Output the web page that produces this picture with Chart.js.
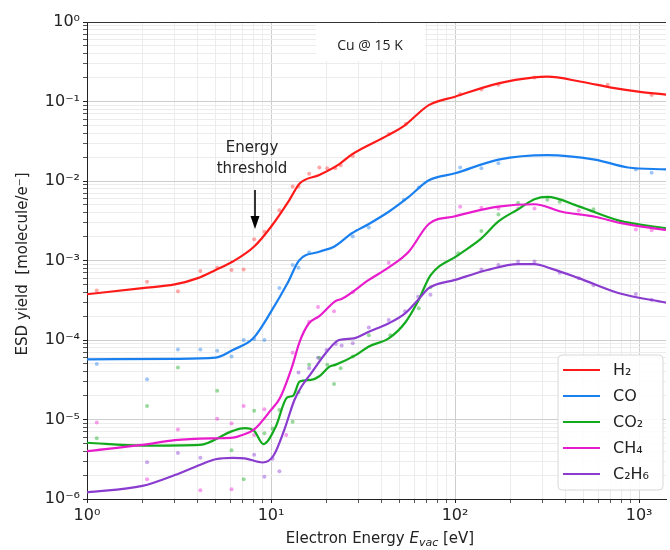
<!DOCTYPE html>
<html><head><meta charset="utf-8">
<script src="https://cdn.jsdelivr.net/npm/chart.js@4/dist/chart.umd.min.js"></script>
<style>html,body{margin:0;padding:0;background:#fff}</style>
</head><body>
<canvas id="c" width="670" height="550"></canvas>
<script>
// ---- data ----
const seriesNames = ['H\u2082', 'CO', 'CO\u2082', 'CH\u2084', 'C\u2082H\u2086'];
const xDecades = [1, 10, 100, 1000];
const yDecades = [1e-6, 1e-5, 1e-4, 1e-3, 1e-2, 1e-1, 1];

// smoothed curves
const h2E = [1, 2, 3, 4, 5, 6.2, 8.1, 10, 12.6, 14.3, 18.3, 23.4, 27.5, 43.6, 53.5, 72, 100, 172, 270, 317, 485, 735, 990, 1400];
const h2Y = [3.76e-4, 4.5e-4, 5.0e-4, 6.0e-4, 7.6e-4, 9.7e-4, 1.5e-3, 2.66e-3, 5.8e-3, 9.3e-3, 1.19e-2, 1.62e-2, 2.16e-2, 3.8e-2, 5.06e-2, 9.0e-2, 0.115, 0.169, 0.201, 0.205, 0.177, 0.147, 0.133, 0.122];
const coE = [1, 3, 5, 6.2, 8, 10, 12.3, 14.2, 18.3, 22, 27.5, 34, 43.6, 56, 72, 100, 172, 317, 575, 870, 1400];
const coY = [5.7e-5, 5.8e-5, 6.0e-5, 7.5e-5, 1.05e-4, 2.27e-4, 5.2e-4, 1.0e-3, 1.29e-3, 1.49e-3, 2.2e-3, 2.88e-3, 4.1e-3, 6.3e-3, 1.02e-2, 1.25e-2, 1.86e-2, 2.12e-2, 1.86e-2, 1.48e-2, 1.4e-2];
const co2E = [1, 2, 4.1, 6.2, 7.2, 8.1, 9.1, 10.6, 12.2, 13.2, 14.3, 16.5, 18.3, 20.7, 22.5, 29, 34, 43.6, 53.5, 63, 73.5, 104, 139, 172, 220, 270, 317, 470, 770, 1400];
const co2Y = [5.1e-6, 4.7e-6, 4.8e-6, 7.2e-6, 7.8e-6, 7.2e-6, 4.9e-6, 8.1e-6, 1.88e-5, 2.0e-5, 3.0e-5, 3.15e-5, 3.5e-5, 4.6e-5, 4.9e-5, 6.5e-5, 8.3e-5, 1.05e-4, 1.65e-4, 3.1e-4, 6.5e-4, 1.17e-3, 1.9e-3, 3.1e-3, 4.4e-3, 5.9e-3, 6.3e-3, 4.8e-3, 3.2e-3, 2.54e-3];
const ch4E = [1, 2, 3, 5, 6.2, 7, 8.1, 10, 11.2, 13, 14.3, 16, 18.3, 22.5, 24.3, 34, 43.6, 56, 72, 100, 172, 270, 380, 575, 800, 1400];
const ch4Y = [4.0e-6, 4.8e-6, 5.5e-6, 5.8e-6, 5.9e-6, 6.4e-6, 7.5e-6, 1.32e-5, 1.88e-5, 4.6e-5, 9.5e-5, 1.6e-4, 2.0e-4, 3.1e-4, 3.3e-4, 5.7e-4, 8.2e-4, 1.29e-3, 2.88e-3, 3.6e-3, 4.75e-3, 5.1e-3, 4.1e-3, 3.55e-3, 2.95e-3, 2.42e-3];
const c2h6E = [1, 2, 3, 4.1, 5, 6.2, 7.2, 9, 10.3, 11.8, 13.4, 14.8, 16.5, 19.8, 23.4, 28.2, 34, 43.6, 53.5, 63, 72, 100, 150, 220, 270, 333, 470, 770, 1400];
const c2h6Y = [1.21e-6, 1.46e-6, 2.0e-6, 2.68e-6, 3.16e-6, 3.3e-6, 3.25e-6, 2.88e-6, 3.5e-6, 7.4e-6, 1.76e-5, 2.7e-5, 3.8e-5, 6.8e-5, 1.0e-4, 1.05e-4, 1.27e-4, 1.62e-4, 2.16e-4, 3.2e-4, 4.5e-4, 5.7e-4, 7.6e-4, 9.0e-4, 9.0e-4, 7.9e-4, 6.0e-4, 3.9e-4, 2.95e-4];

// raw measurement dots
const h2DotE = [1.13, 2.12, 3.12, 4.13, 5.1, 6.1, 7.1, 8.1, 9.2, 11.1, 13.1, 14.1, 16.1, 18.3, 20.2, 22.3, 23.9, 27.8, 43.6, 54, 106.6, 139, 172, 270, 675, 1170];
const h2DotY = [4.2e-4, 5.4e-4, 4.1e-4, 7.4e-4, 8.1e-4, 7.6e-4, 7.7e-4, 1.85e-3, 2.3e-3, 4.3e-3, 8.5e-3, 8.5e-3, 1.23e-2, 1.48e-2, 1.45e-2, 1.45e-2, 1.58e-2, 2.06e-2, 3.9e-2, 5.2e-2, 0.124, 0.142, 0.162, 0.2, 0.162, 0.121];
const coDotE = [1.13, 2.12, 3.12, 4.13, 5.1, 6.1, 7.1, 8.1, 9.2, 11.1, 13.1, 14.1, 16.1, 27.8, 34, 52.7, 63.5, 106.6, 139, 172, 960, 1170];
const coDotY = [5.0e-5, 3.2e-5, 7.6e-5, 7.6e-5, 7.3e-5, 6.2e-5, 1.0e-4, 1.03e-4, 1.0e-4, 4.5e-4, 8.8e-4, 8.1e-4, 1.26e-3, 2.0e-3, 2.6e-3, 5.8e-3, 8.3e-3, 1.48e-2, 1.45e-2, 1.67e-2, 1.4e-2, 1.27e-2];
const co2DotE = [1.13, 2.12, 3.12, 5.1, 6.1, 7.1, 8.1, 9.2, 10.2, 11.1, 13.1, 14.1, 16.1, 18.3, 20.2, 22, 23.9, 27.8, 34, 44.5, 63.5, 73.5, 104, 139, 172, 220, 317, 370, 565];
const co2DotY = [5.8e-6, 1.48e-5, 4.5e-5, 2.3e-5, 4.1e-6, 1.77e-6, 1.29e-5, 6.7e-6, 7.7e-6, 1.32e-5, 9.4e-6, 2.2e-5, 4.9e-5, 6.0e-5, 4.9e-5, 2.8e-5, 4.4e-5, 6.2e-5, 1.15e-4, 1.15e-4, 2.5e-4, 4.6e-4, 1.23e-3, 2.35e-3, 3.8e-3, 5.3e-3, 5.8e-3, 5.5e-3, 4.4e-3];
const ch4DotE = [1.13, 2.12, 3.12, 4.13, 5.1, 6.1, 6.1, 7.1, 8.1, 9.2, 12.1, 13.1, 16.1, 18, 22, 27.8, 43.6, 106.6, 139, 172, 220, 270, 470, 960, 1170];
const ch4DotY = [9.2e-6, 1.77e-6, 7.5e-6, 1.29e-6, 1.02e-5, 8.9e-6, 1.33e-6, 1.48e-5, 6.4e-6, 1.35e-5, 6.4e-6, 6.9e-5, 1.7e-4, 2.6e-4, 2.3e-4, 4.0e-4, 9.4e-4, 4.75e-3, 4.6e-3, 4.5e-3, 4.5e-3, 4.5e-3, 4.25e-3, 2.46e-3, 2.4e-3];
const c2h6DotE = [2.12, 3.12, 4.13, 8.1, 9.2, 10.2, 11.1, 14.1, 16.1, 18, 20, 22.5, 24.2, 27.8, 34, 43.6, 53.5, 63, 73.5, 139, 172, 220, 270, 370, 470, 565, 960, 1170];
const c2h6DotY = [2.9e-6, 3.8e-6, 3.3e-6, 3.6e-6, 1.9e-6, 3.2e-6, 2.24e-6, 3.9e-5, 4.4e-5, 6.0e-5, 7.5e-5, 8.9e-5, 8.5e-5, 9.1e-5, 1.44e-4, 1.78e-4, 2.3e-4, 3.5e-4, 3.7e-4, 7.7e-4, 8.8e-4, 9.7e-4, 9.7e-4, 7.0e-4, 6.0e-4, 4.9e-4, 3.8e-4, 3.2e-4];

// ---- styling ----
const colors = ['#ff1a1a', '#1a80f0', '#14aa1e', '#e81ccc', '#8a3ccf'];
const dotColors = ['rgba(255,60,60,0.45)', 'rgba(40,130,240,0.45)', 'rgba(30,170,40,0.45)', 'rgba(235,40,210,0.45)', 'rgba(140,60,210,0.45)'];
const lineE = [h2E, coE, co2E, ch4E, c2h6E];
const lineY = [h2Y, coY, co2Y, ch4Y, c2h6Y];
const dotE = [h2DotE, coDotE, co2DotE, ch4DotE, c2h6DotE];
const dotY = [h2DotY, coDotY, co2DotY, ch4DotY, c2h6DotY];

const zip = (xs, ys) => xs.map((x, i) => ({x: x, y: ys[i]}));
const datasets = [];
for (let i = 0; i < 5; i++) {
  datasets.push({
    type: 'scatter', label: seriesNames[i] + ' data', data: zip(dotE[i], dotY[i]),
    backgroundColor: dotColors[i], borderWidth: 0, pointRadius: 2, order: 10
  });
}
for (let i = 0; i < 5; i++) {
  datasets.push({
    type: 'line', label: seriesNames[i], data: zip(lineE[i], lineY[i]),
    borderColor: colors[i], backgroundColor: colors[i], borderWidth: 2.2,
    pointRadius: 0, cubicInterpolationMode: 'monotone', fill: false, order: 5 - i
  });
}

const SUP = {'-': '\u207B', '0': '\u2070', '1': '\u00B9', '2': '\u00B2', '3': '\u00B3', '4': '\u2074', '5': '\u2075', '6': '\u2076', '7': '\u2077', '8': '\u2078', '9': '\u2079'};
const expLabel = v => {
  const e = Math.round(Math.log10(v));
  return '10' + String(e).split('').map(c => SUP[c]).join('');
};
const isDecade = v => Math.abs(Math.log10(v) - Math.round(Math.log10(v))) < 1e-9;
const minorTicks = (decades, max) => {
  const out = [];
  decades.forEach(d => { for (let m = 1; m <= 9; m++) { const v = d * m; if (v <= max * 1.0000001) out.push(v); } });
  return out;
};

const annot = {
  id: 'annot',
  afterDraw(chart) {
    const ctx = chart.ctx, a = chart.chartArea;
    ctx.save();
    // top frame line
    ctx.strokeStyle = '#333'; ctx.lineWidth = 1;
    ctx.beginPath(); ctx.moveTo(a.left, a.top + 0.5); ctx.lineTo(a.right, a.top + 0.5); ctx.stroke();
    // "Cu @ 15 K" box
    ctx.fillStyle = '#fff';
    ctx.fillRect(316, a.top + 1, 109, 38);
    ctx.fillStyle = '#222';
    ctx.font = '14px "Open Sans", "Liberation Sans", sans-serif';
    ctx.textAlign = 'center'; ctx.textBaseline = 'middle';
    ctx.fillText('Cu @ 15 K', 370, 46);
    // Energy threshold
    ctx.font = '15px "DejaVu Sans", sans-serif';
    ctx.fillStyle = '#222';
    ctx.fillText('Energy', 252, 148);
    ctx.fillText('threshold', 252, 169);
    ctx.strokeStyle = '#000'; ctx.lineWidth = 1.6;
    ctx.beginPath(); ctx.moveTo(255, 190); ctx.lineTo(255, 220); ctx.stroke();
    ctx.fillStyle = '#000';
    ctx.beginPath(); ctx.moveTo(250.5, 216); ctx.lineTo(259.5, 216); ctx.lineTo(255, 229); ctx.closePath(); ctx.fill();
    // axis titles
    ctx.fillStyle = '#222';
    ctx.font = '15px "DejaVu Sans", sans-serif';
    ctx.save();
    ctx.translate(23, 264); ctx.rotate(-Math.PI / 2);
    ctx.textAlign = 'center'; ctx.textBaseline = 'middle';
    ctx.fillText('ESD yield  [molecule/e\u207B]', 0, 0);
    ctx.restore();
    // x title with italic E_vac
    const parts = [
      {t: 'Electron Energy ', f: '15px "DejaVu Sans", sans-serif', dy: 0},
      {t: 'E', f: 'italic 15px "DejaVu Sans", sans-serif', dy: 0},
      {t: 'vac', f: 'italic 11px "DejaVu Sans", sans-serif', dy: 3},
      {t: ' [eV]', f: '15px "DejaVu Sans", sans-serif', dy: 0}
    ];
    let w = 0;
    parts.forEach(p => { ctx.font = p.f; w += ctx.measureText(p.t).width; });
    let x = 380 - w / 2;
    ctx.textAlign = 'left'; ctx.textBaseline = 'alphabetic';
    parts.forEach(p => { ctx.font = p.f; ctx.fillText(p.t, x, 543 + p.dy); x += ctx.measureText(p.t).width; });
    // legend
    const lx = 558, ly = 355, lw = 105, lh = 135, r = 4;
    ctx.fillStyle = 'rgba(255,255,255,0.9)';
    ctx.strokeStyle = '#d8d8d8'; ctx.lineWidth = 1;
    ctx.beginPath();
    ctx.moveTo(lx + r, ly); ctx.lineTo(lx + lw - r, ly); ctx.quadraticCurveTo(lx + lw, ly, lx + lw, ly + r);
    ctx.lineTo(lx + lw, ly + lh - r); ctx.quadraticCurveTo(lx + lw, ly + lh, lx + lw - r, ly + lh);
    ctx.lineTo(lx + r, ly + lh); ctx.quadraticCurveTo(lx, ly + lh, lx, ly + lh - r);
    ctx.lineTo(lx, ly + r); ctx.quadraticCurveTo(lx, ly, lx + r, ly); ctx.closePath();
    ctx.fill(); ctx.stroke();
    ctx.font = '16px "DejaVu Sans", sans-serif';
    ctx.textBaseline = 'middle'; ctx.textAlign = 'left';
    const lineDs = chart.data.datasets.filter(d => d.type === 'line');
    lineDs.forEach((d, i) => {
      const yy = 370 + i * 26;
      ctx.strokeStyle = d.borderColor; ctx.lineWidth = 2.2;
      ctx.beginPath(); ctx.moveTo(563, yy); ctx.lineTo(600, yy); ctx.stroke();
      ctx.fillStyle = '#222';
      ctx.fillText(d.label, 613, yy + 1);
    });
    ctx.restore();
  }
};

new Chart(document.getElementById('c'), {
  data: {datasets: datasets},
  options: {
    responsive: false, animation: false,
    layout: {padding: {top: 22, right: 0, left: 0, bottom: 0}},
    plugins: {legend: {display: false}, tooltip: {enabled: false}, title: {display: false}},
    scales: {
      x: {
        type: 'logarithmic', min: 1, max: 1400,
        afterBuildTicks: s => { s.ticks = minorTicks(xDecades, 1400).map(v => ({value: v, major: isDecade(v)})); },
        afterFit: s => { s.height = 51; },
        border: {display: true, color: '#222', width: 1},
        grid: {
          color: c => (c.tick && isDecade(c.tick.value)) ? '#cdcdcd' : '#ececec',
          lineWidth: 1, drawTicks: true, tickLength: 4,
          tickColor: c => (c.tick && isDecade(c.tick.value)) ? '#222' : '#555'
        },
        ticks: {
          autoSkip: false, maxRotation: 0, padding: 3, color: '#222',
          font: {family: 'DejaVu Sans', size: 16},
          callback: v => isDecade(v) ? expLabel(v) : ''
        }
      },
      y: {
        type: 'logarithmic', min: 1e-6, max: 1,
        afterBuildTicks: s => { s.ticks = minorTicks(yDecades, 1).map(v => ({value: v, major: isDecade(v)})); },
        afterFit: s => { s.width = 87; },
        border: {display: true, color: '#222', width: 1},
        grid: {
          color: c => (c.tick && isDecade(c.tick.value)) ? '#cdcdcd' : '#ececec',
          lineWidth: 1, drawTicks: true, tickLength: 4,
          tickColor: c => (c.tick && isDecade(c.tick.value)) ? '#222' : '#555'
        },
        ticks: {
          autoSkip: false, padding: 3, color: '#222',
          font: {family: 'DejaVu Sans', size: 16},
          callback: v => isDecade(v) ? expLabel(v) : ''
        }
      }
    }
  },
  plugins: [annot]
});
</script>
</body></html>
